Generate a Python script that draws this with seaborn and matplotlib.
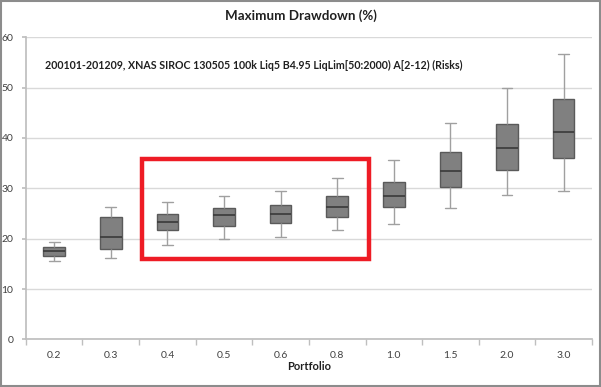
import numpy as np
import pandas as pd
import seaborn as sns
import matplotlib.pyplot as plt
from matplotlib.patches import Rectangle

categories = ["0.2", "0.3", "0.4", "0.5", "0.6", "0.8", "1.0", "1.5", "2.0", "3.0"]
whisker_low = [15.6, 16.2, 18.7, 20.0, 20.3, 21.8, 22.9, 26.1, 28.7, 29.5]
q1 = [16.6, 18.0, 21.7, 22.6, 23.1, 24.3, 26.3, 30.3, 33.6, 36.0]
median = [17.6, 20.3, 23.4, 24.6, 24.8, 26.3, 28.5, 33.4, 38.0, 41.2]
q3 = [18.4, 24.3, 24.9, 26.0, 26.7, 28.5, 31.3, 37.2, 42.7, 47.7]
whisker_high = [19.4, 26.3, 27.3, 28.5, 29.4, 32.0, 35.6, 43.0, 50.0, 56.7]

title = "Maximum Drawdown (%)"
subtitle = "200101-201209, XNAS SIROC 130505 100k Liq5 B4.95 LiqLim[50:2000) A[2-12) (Risks)"
xlabel = "Portfolio"
highlight_cats = ("0.4", "0.8")
highlight_y = (15.9, 35.9)

rows = []
for i, c in enumerate(categories):
    for v in (whisker_low[i], q1[i], median[i], q3[i], whisker_high[i]):
        rows.append({"Portfolio": c, "Drawdown": v})
df = pd.DataFrame(rows)

sns.set_theme(style="white")
plt.rcParams["font.family"] = ["Lato", "DejaVu Sans"]

fig = plt.figure(figsize=(6.01, 3.87), dpi=100)
ax = fig.add_axes([0.043, 0.123, 0.942, 0.781])

sns.boxplot(data=df, x="Portfolio", y="Drawdown", order=categories, whis=(0, 100),
            width=0.38, color="#808080", saturation=1, ax=ax,
            boxprops=dict(facecolor="#808080", edgecolor="#5a5a5a", linewidth=1.0),
            medianprops=dict(color="#3a3a3a", linewidth=1.2),
            whiskerprops=dict(color="#a0a0a0", linewidth=1.0),
            capprops=dict(color="#a0a0a0", linewidth=1.0),
            showfliers=False)

ax.set_ylim(0, 60)
ax.set_xlim(-0.5, len(categories) - 0.5)
ax.set_yticks(np.arange(0, 61, 10))
ax.yaxis.grid(True, color="#d9d9d9", linewidth=1.0)
ax.set_axisbelow(True)
for s in ["top", "right"]:
    ax.spines[s].set_visible(False)
ax.spines["left"].set_color("#bfbfbf")
ax.spines["bottom"].set_color("#bfbfbf")
ax.tick_params(axis="y", which="major", left=True, length=3, color="#bfbfbf",
               labelsize=7.5, labelcolor="#404040", pad=6)
ax.tick_params(axis="x", which="major", bottom=False, labelsize=7.5, labelcolor="#404040", pad=2)
ax.set_xticks(np.arange(-0.5, len(categories), 1.0), minor=True)
ax.tick_params(axis="x", which="minor", bottom=True, length=4, color="#bfbfbf")
ax.set_xlabel(xlabel, fontsize=8, fontweight="bold", color="#202020", labelpad=1)
ax.set_ylabel("")

fig.suptitle(title, x=0.5, y=0.975, fontsize=9.6, fontweight="bold", color="#202020")
ax.text(0.034, 0.905, subtitle, transform=ax.transAxes, fontsize=7.7, fontweight="bold",
        color="#202020", va="center", ha="left")

x0 = categories.index(highlight_cats[0]) - 0.45
x1 = categories.index(highlight_cats[1]) + 0.57
ax.add_patch(Rectangle((x0, highlight_y[0]), x1 - x0, highlight_y[1] - highlight_y[0],
                       fill=False, edgecolor="#ee1c25", linewidth=3.2, zorder=5, clip_on=False))

fig.patches.append(Rectangle((0.002, 0.003), 0.996, 0.994, transform=fig.transFigure,
                             fill=False, edgecolor="#8c8c8c", linewidth=1.5))

fig.savefig("out.png", dpi=100)
